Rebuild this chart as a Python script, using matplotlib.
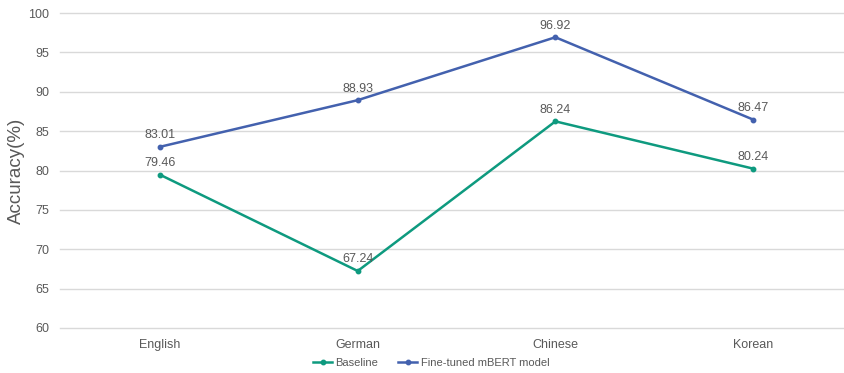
import matplotlib
matplotlib.use("Agg")
import matplotlib.pyplot as plt
from matplotlib.lines import Line2D

plt.rcParams['font.family'] = ['Liberation Sans', 'DejaVu Sans']

languages = ["English", "German", "Chinese", "Korean"]
baseline = [79.46, 67.24, 86.24, 80.24]
finetuned = [83.01, 88.93, 96.92, 86.47]
series_names = ["Baseline", "Fine-tuned mBERT model"]
yticks = [60, 65, 70, 75, 80, 85, 90, 95, 100]

teal = "#0E9A7F"
blue = "#4361AE"
text_gray = "#595959"

fig = plt.figure(figsize=(8.44, 3.73), dpi=100)
ax = fig.add_axes([60 / 844, 45 / 373, 784 / 844, 315 / 373])

x = list(range(len(languages)))
for vals, color in ((baseline, teal), (finetuned, blue)):
    ax.plot(x, vals, color=color, lw=1.8, marker="o", ms=3.2, zorder=3)
    for xi, v in zip(x, vals):
        ax.annotate(f"{v:.2f}", (xi, v), xytext=(0, 4), textcoords="offset points",
                    ha="center", va="bottom", fontsize=9, color=text_gray)

ax.set_xlim(-0.506, 3.46)
ax.set_ylim(60, 100)
ax.set_yticks(yticks)
ax.set_xticks(x)
ax.set_xticklabels(languages)
ax.grid(axis="y", color="#D9D9D9", lw=1)
for gl in ax.get_ygridlines():
    gl.set_clip_on(False)
ax.set_axisbelow(True)
for s in ax.spines.values():
    s.set_visible(False)
ax.tick_params(axis="both", length=0, labelsize=9, labelcolor=text_gray)
ax.tick_params(axis="y", pad=8)
ax.tick_params(axis="x", pad=8)
ax.set_ylabel("Accuracy(%)", fontsize=13.5, color=text_gray, labelpad=2)

handles = [Line2D([0], [0], color=c, lw=1.8, marker="o", ms=3.2) for c in (teal, blue)]
fig.legend(handles, series_names, loc="center", bbox_to_anchor=(0.511, 10 / 373),
           ncol=2, frameon=False, fontsize=8, labelcolor=text_gray,
           handlelength=1.7, handletextpad=0.3, columnspacing=1.8)

fig.savefig("out.png", dpi=100)
